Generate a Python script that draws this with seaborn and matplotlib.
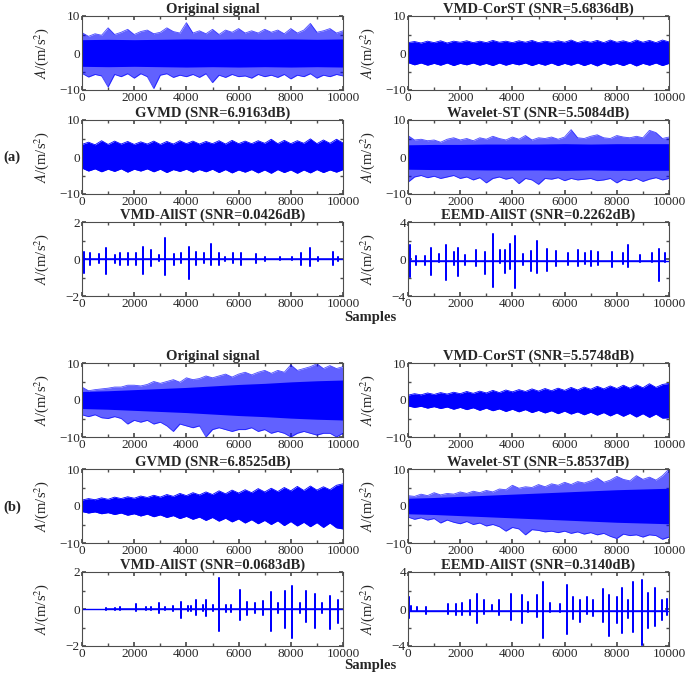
import numpy as np
import pandas as pd
import seaborn as sns
import matplotlib.pyplot as plt
from matplotlib.ticker import MultipleLocator

# ---------------- data ----------------
env_x = np.arange(0, 10001, 250)     # envelope sample grid
core_x = np.arange(0, 10001, 1000)   # dense-core sample grid

# (a) Original signal
orig_a_core = [3.6, 3.7, 3.6, 3.7, 3.8, 3.7, 3.8, 3.7, 3.8, 3.7, 3.8]
orig_a_hi = [5.5, 4.5, 5.2, 4.8, 6.8, 5.0, 5.6, 6.4, 5.0, 5.8, 6.2, 5.2, 5.6, 6.8, 5.8, 5.4, 8.2, 5.4, 6.0, 5.2, 6.4,
             5.0, 6.2, 5.6, 6.6, 5.4, 6.0, 5.4, 6.4, 5.6, 6.2, 5.2, 6.6, 5.4, 6.2, 8.0, 5.6, 6.0, 6.6, 5.4, 6.0]
orig_a_lo = [-5.5, -6.5, -5.8, -6.2, -9.2, -5.8, -6.4, -5.6, -6.8, -5.6, -6.4, -9.6, -6.0, -5.6, -6.6, -6.0, -6.4,
             -5.8, -6.6, -5.6, -8.0, -6.0, -6.6, -5.8, -6.4, -6.2, -6.8, -5.8, -6.4, -6.0, -6.6, -5.8, -7.0, -6.0,
             -6.4, -5.6, -6.8, -6.0, -6.4, -5.8, -6.2]
# (a) VMD-CorST
corst_a_hi = [2.8, 3.1, 2.7, 3.2, 2.8, 3.3, 2.7, 3.2, 2.9, 3.3, 2.8, 3.2, 2.8, 3.4, 2.9, 3.2, 2.8, 3.3, 2.9, 3.4, 2.8,
              3.2, 2.9, 3.3, 2.9, 3.5, 2.8, 3.3, 2.9, 3.4, 2.8, 3.5, 2.9, 3.3, 2.8, 3.5, 2.9, 3.4, 2.8, 3.5, 3.0]
corst_a_lo = [-2.6, -3.2, -2.7, -3.3, -2.8, -3.3, -2.7, -3.4, -2.8, -3.2, -2.7, -3.3, -2.8, -3.4, -2.7, -3.3, -2.8,
              -3.2, -2.7, -3.4, -2.8, -3.3, -2.7, -3.4, -2.8, -3.3, -2.7, -3.4, -2.8, -3.5, -2.7, -3.3, -2.8, -3.4,
              -2.7, -3.5, -2.8, -3.3, -2.7, -3.4, -2.8]
# (a) GVMD
gvmd_a_hi = [3.4, 4.0, 3.3, 4.4, 3.4, 4.3, 3.5, 4.2, 3.4, 4.1, 3.5, 4.3, 3.4, 4.2, 3.5, 4.4, 3.6, 4.3, 3.5, 4.2, 3.6,
             4.4, 3.5, 4.5, 3.6, 4.3, 3.6, 4.4, 3.7, 4.8, 3.6, 4.5, 3.6, 4.4, 3.7, 4.9, 3.6, 4.6, 3.7, 4.8, 3.8]
gvmd_a_lo = [-3.0, -3.8, -3.2, -4.0, -3.3, -3.9, -3.2, -4.1, -3.3, -3.8, -3.2, -4.0, -3.3, -4.2, -3.4, -3.9, -3.3,
             -4.1, -3.4, -4.0, -3.3, -4.2, -3.4, -4.3, -3.5, -4.1, -3.4, -4.3, -3.5, -4.4, -3.4, -4.2, -3.5, -4.4,
             -3.5, -4.3, -3.4, -4.2, -3.5, -4.1, -3.4]
# (a) Wavelet-ST
wav_a_core = [3.3, 3.4, 3.4, 3.5, 3.5, 3.5, 3.6, 3.5, 3.6, 3.6, 3.6]
wav_a_hi = [5.8, 4.6, 4.8, 4.4, 4.6, 4.0, 4.8, 5.2, 4.6, 5.0, 4.4, 5.2, 4.8, 5.6, 5.0, 4.6, 5.4, 4.8, 5.8, 4.6, 5.2,
            5.0, 5.4, 4.8, 5.4, 7.4, 5.2, 5.0, 5.6, 6.0, 5.2, 5.0, 5.8, 5.4, 5.2, 5.6, 5.2, 7.2, 6.6, 5.0, 5.4]
wav_a_lo = [-6.8, -5.4, -5.0, -5.6, -5.2, -5.8, -5.4, -5.0, -5.8, -5.4, -6.2, -5.6, -7.0, -5.8, -5.4, -6.0, -5.6,
            -7.2, -5.8, -6.2, -7.4, -5.8, -6.0, -5.6, -6.4, -5.8, -6.2, -6.0, -5.8, -6.4, -6.2, -5.8, -7.0, -6.0,
            -6.4, -5.8, -6.6, -6.0, -5.6, -6.2, -5.8]
# (a) VMD-AllST
allst_a_x = [77, 320, 640, 930, 1250, 1470, 1760, 2060, 2340, 2660, 2950, 3190, 3510, 3800, 4090, 4380,
             4660, 4930, 5240, 5470, 5790, 6100, 6680, 7020, 7570, 8030, 8400, 8720, 9040, 9600, 9810]
allst_a_hi = [0.4, 0.35, 0.25, 0.6, 0.2, 0.35, 0.35, 0.3, 0.65, 0.5, 0.2, 1.15, 0.25, 0.3, 0.65, 0.4,
              0.3, 0.8, 0.35, 0.1, 0.3, 0.3, 0.25, 0.1, 0.1, 0.1, 0.3, 0.6, 0.1, 0.4, 0.1]
allst_a_lo = [-0.75, -0.3, -0.2, -0.8, -0.2, -0.3, -0.35, -0.3, -0.8, -0.4, -0.1, -0.85, -0.3, -0.2, -1.1, -0.3,
              -0.2, -0.3, -0.3, -0.1, -0.2, -0.3, -0.2, -0.1, -0.05, -0.05, -0.3, -0.4, -0.1, -0.3, -0.1]
# (a) EEMD-AllST
eemd_a_x = [64, 320, 640, 895, 1190, 1470, 1765, 1920, 2170, 2620, 2940, 3240, 3520, 3710, 3900, 4090, 4410,
            4730, 4950, 5310, 5670, 6140, 6520, 6780, 7030, 7290, 7800, 8250, 8440, 8890, 9340, 9630, 9850]
eemd_a_hi = [1.5, 0.3, 0.3, 1.2, 0.5, 1.5, 0.8, 1.2, 0.4, 1.0, 0.8, 2.7, 1.0, 1.0, 1.6, 2.5, 0.5,
             0.9, 1.9, 1.1, 0.9, 0.7, 1.0, 0.7, 0.9, 0.8, 0.8, 0.7, 1.5, 0.4, 0.6, 1.1, 0.7]
eemd_a_lo = [-1.9, -0.6, -0.6, -1.7, -0.3, -2.3, -0.6, -1.8, -0.6, -0.8, -1.6, -3.0, -0.4, -1.5, -1.1, -3.1, -0.6,
             -1.3, -1.5, -1.3, -0.8, -0.6, -0.8, -0.5, -0.8, -0.6, -0.9, -0.5, -0.9, -0.3, -0.3, -2.4, -0.3]

# (b) Original signal
orig_b_core = [2.3, 2.5, 2.8, 3.1, 3.4, 3.8, 4.2, 4.5, 4.9, 5.2, 5.4]
orig_b_hi = [3.5, 2.5, 2.8, 3.0, 3.2, 3.5, 3.5, 4.0, 4.0, 3.8, 4.2, 5.0, 4.5, 5.0, 5.5, 4.8, 6.0, 5.5, 5.8, 6.5, 6.0,
             6.5, 7.0, 6.2, 7.0, 7.5, 6.8, 7.5, 8.0, 7.2, 8.0, 7.5, 9.5, 8.0, 8.5, 9.0, 9.8, 8.5, 9.3, 8.5, 9.0]
orig_b_lo = [-4.0, -4.5, -4.0, -4.8, -5.0, -4.5, -5.0, -6.5, -5.5, -6.0, -5.5, -6.5, -6.0, -7.0, -8.5, -6.5, -7.0,
             -7.5, -7.0, -10.0, -8.0, -7.5, -8.0, -8.5, -8.0, -8.0, -7.5, -8.5, -8.0, -9.0, -8.5, -9.0, -10.0, -9.0,
             -8.5, -9.0, -9.5, -9.0, -9.0, -10.0, -9.0]
# (b) VMD-CorST
corst_b_hi = [1.3, 1.7, 1.4, 1.9, 1.5, 2.0, 1.6, 2.1, 1.7, 2.3, 1.8, 2.4, 1.9, 2.6, 2.0, 2.7, 2.2, 2.8, 2.3, 3.0, 2.4,
              3.1, 2.5, 3.2, 2.6, 3.4, 2.7, 3.5, 2.9, 3.7, 3.0, 3.8, 3.1, 4.0, 3.2, 4.1, 3.3, 4.4, 3.4, 4.2, 4.5]
corst_b_lo = [-1.6, -2.0, -1.7, -2.2, -1.8, -2.3, -1.9, -2.5, -2.0, -2.6, -2.1, -2.8, -2.2, -2.9, -2.4, -3.1, -2.5,
              -3.2, -2.6, -3.4, -2.8, -3.5, -2.9, -3.7, -3.0, -3.8, -3.2, -4.0, -3.3, -4.1, -3.4, -4.3, -3.5, -4.4,
              -3.6, -4.6, -3.7, -4.7, -3.8, -4.9, -4.8]
# (b) GVMD
gvmd_b_hi = [1.6, 2.0, 1.7, 2.2, 1.8, 2.4, 2.0, 2.5, 2.1, 2.7, 2.3, 2.9, 2.4, 3.1, 2.6, 3.4, 2.8, 3.6, 3.0, 3.8, 3.1,
             4.1, 3.3, 4.3, 3.5, 4.4, 3.6, 4.7, 3.8, 4.8, 3.9, 5.0, 4.1, 5.3, 4.2, 5.4, 4.3, 5.2, 4.4, 5.6, 6.0]
gvmd_b_lo = [-1.5, -1.9, -1.6, -2.1, -1.8, -2.3, -1.9, -2.5, -2.1, -2.7, -2.2, -2.9, -2.4, -3.1, -2.6, -3.4, -2.8,
             -3.6, -3.0, -3.9, -3.1, -4.1, -3.3, -4.3, -3.5, -4.6, -3.7, -4.8, -3.9, -5.0, -4.0, -5.3, -4.2, -5.4,
             -4.4, -5.6, -4.5, -5.8, -4.6, -5.9, -6.2]
# (b) Wavelet-ST
wav_b_core = [2.1, 2.3, 2.6, 2.9, 3.2, 3.5, 3.8, 4.1, 4.4, 4.6, 4.8]
wav_b_hi = [2.8, 2.6, 3.2, 2.8, 3.6, 3.0, 3.4, 3.2, 3.8, 3.4, 4.0, 3.6, 4.2, 3.8, 4.6, 4.4, 5.6, 4.8, 5.2, 5.0, 5.8,
            5.2, 6.0, 5.6, 6.4, 5.8, 6.6, 6.2, 6.8, 7.6, 6.4, 7.0, 8.0, 7.2, 6.8, 8.2, 7.2, 7.8, 7.0, 8.2, 10.0]
wav_b_lo = [-3.0, -3.6, -3.2, -3.8, -3.4, -4.6, -3.8, -4.4, -4.8, -4.2, -5.0, -4.6, -5.4, -5.0, -5.6, -6.8, -5.8,
            -6.2, -7.8, -6.4, -6.6, -7.0, -6.8, -7.2, -6.8, -7.4, -7.0, -7.6, -7.2, -7.8, -7.4, -8.2, -8.8, -7.6,
            -8.0, -7.8, -8.4, -7.8, -8.0, -9.0, -8.4]
# (b) VMD-AllST
allst_b_x = [930, 1250, 1470, 2080, 2460, 2660, 2950, 3190, 3490, 3805, 4060, 4190, 4380, 4640, 4760, 5020, 5235,
             5530, 5720, 6040, 6320, 6610, 6930, 7230, 7510, 7760, 8060, 8340, 8590, 8910, 9210, 9490, 9810]
allst_b_hi = [0.05, 0.05, 0.1, 0.25, 0.1, 0.1, 0.3, 0.1, 0.15, 0.4, 0.15, 0.15, 0.5, 0.2, 0.5, 0.2, 1.7,
              0.2, 0.2, 1.05, 0.4, 0.3, 0.45, 0.9, 0.3, 0.96, 1.27, 0.3, 0.96, 0.8, 0.3, 0.7, 0.5]
allst_b_lo = [-0.05, -0.05, -0.05, -0.1, -0.05, -0.05, -0.2, -0.05, -0.1, -0.5, -0.1, -0.1, -0.3, -0.1, -0.4, -0.1,
              -1.2, -0.15, -0.15, -0.6, -0.3, -0.2, -0.3, -1.2, -0.2, -1.0, -1.55, -0.2, -0.7, -1.0, -0.2, -1.1, -0.75]
# (b) EEMD-AllST
eemd_b_x = [30, 130, 345, 705, 1535, 1855, 2085, 2390, 2660, 2900, 3200, 3490, 3965, 4350, 4605, 4925, 5180, 5435,
            5820, 6075, 6330, 6590, 6840, 7100, 7480, 7710, 7995, 8185, 8440, 8635, 8955, 9210, 9465, 9720, 9910]
eemd_b_hi = [1.3, 0.3, 0.2, 0.2, 0.5, 0.5, 0.6, 1.0, 1.6, 1.0, 0.4, 1.0, 1.6, 1.5, 0.8, 1.5, 2.9, 0.6,
             0.5, 2.6, 1.3, 1.0, 1.3, 1.0, 2.2, 1.5, 1.3, 2.3, 1.0, 2.9, 3.1, 1.7, 2.3, 1.0, 1.1]
eemd_b_lo = [-1.0, -0.2, -0.1, -0.5, -0.5, -0.6, -0.6, -0.6, -1.5, -0.5, -0.2, -0.6, -1.2, -1.5, -0.3, -0.9, -3.1,
             -0.3, -0.3, -2.7, -1.1, -1.4, -0.5, -0.8, -1.4, -2.9, -1.5, -2.6, -1.0, -2.5, -3.9, -2.0, -1.8, -1.2, -0.6]
eemd_base = -0.2

titles_a = ['Original signal', 'VMD-CorST (SNR=5.6836dB)', 'GVMD (SNR=6.9163dB)',
            'Wavelet-ST (SNR=5.5084dB)', 'VMD-AllST (SNR=0.0426dB)', 'EEMD-AllST (SNR=0.2262dB)']
titles_b = ['Original signal', 'VMD-CorST (SNR=5.5748dB)', 'GVMD (SNR=6.8525dB)',
            'Wavelet-ST (SNR=5.8537dB)', 'VMD-AllST (SNR=0.0683dB)', 'EEMD-AllST (SNR=0.3140dB)']

# ---------------- style ----------------
sns.set_theme(style='ticks')
plt.rcParams['font.family'] = ['Liberation Serif', 'DejaVu Serif']
plt.rcParams['mathtext.fontset'] = 'stix'
BLUE = (0.0, 0.0, 1.0)

fig = plt.figure(figsize=(6.85, 6.74), dpi=100)
W, H = 685, 674
col_left = [82, 408]
col_w = 261
row_top = [16, 120, 222, 363, 469, 572]
row_h = 74


def make_ax(row, col):
    return fig.add_axes([col_left[col] / W, 1 - (row_top[row] + row_h) / H, col_w / W, row_h / H])


def style_ax(ax, title, ylim):
    ax.set_xlim(0, 10000)
    ax.set_ylim(-ylim, ylim)
    ax.xaxis.set_major_locator(MultipleLocator(2000))
    ax.xaxis.set_minor_locator(MultipleLocator(1000))
    ax.yaxis.set_major_locator(MultipleLocator(ylim))
    ax.yaxis.set_minor_locator(MultipleLocator(ylim / 2))
    ax.tick_params(which='both', direction='in', top=True, right=True, labelsize=9.5,
                   color='0.3', pad=1.5)
    ax.tick_params(which='major', length=3)
    ax.tick_params(which='minor', length=2)
    for s in ax.spines.values():
        s.set_color('0.3')
        s.set_linewidth(0.8)
    ax.set_title(title, fontsize=10.5, fontweight='bold', pad=2)
    ax.set_ylabel(r'$A$/(m/s$^2$)', fontsize=10.5)
    ax.yaxis.set_label_coords(-0.12, 0.5)
    ax.set_xlabel('')


def dense(ax, hi, lo, core=None):
    if core is None:
        ax.fill_between(env_x, lo, hi, color=BLUE, linewidth=0)
        alpha = 1.0
    else:
        # noisy signal: lighter spiky fringe around a solid core
        ax.fill_between(env_x, lo, hi, color=BLUE, alpha=0.62, linewidth=0)
        core = np.asarray(core)
        ax.fill_between(core_x, -core, core, color=BLUE, linewidth=0)
        alpha = 0.7
    edges = pd.DataFrame({'x': np.concatenate([env_x, env_x]),
                          'y': np.concatenate([hi, lo]),
                          'edge': ['hi'] * len(env_x) + ['lo'] * len(env_x)})
    sns.lineplot(data=edges, x='x', y='y', units='edge', estimator=None, color=BLUE,
                 linewidth=0.6, alpha=alpha, ax=ax)


def sparse(ax, sx, shi, slo, base=0.0):
    ax.axhline(base, color=BLUE, linewidth=1.0)
    xs, ys = [], []
    for x, h, l in zip(sx, shi, slo):
        xs += [x, x, x, x]
        ys += [base, h, l, base]
    trace = pd.DataFrame({'x': xs, 'y': ys})
    sns.lineplot(data=trace, x='x', y='y', sort=False, estimator=None, color=BLUE,
                 linewidth=1.1, ax=ax)


groups = [
    (0, titles_a, [(orig_a_hi, orig_a_lo, orig_a_core), (corst_a_hi, corst_a_lo, None),
                   (gvmd_a_hi, gvmd_a_lo, None), (wav_a_hi, wav_a_lo, wav_a_core)],
     (allst_a_x, allst_a_hi, allst_a_lo), (eemd_a_x, eemd_a_hi, eemd_a_lo)),
    (3, titles_b, [(orig_b_hi, orig_b_lo, orig_b_core), (corst_b_hi, corst_b_lo, None),
                   (gvmd_b_hi, gvmd_b_lo, None), (wav_b_hi, wav_b_lo, wav_b_core)],
     (allst_b_x, allst_b_hi, allst_b_lo), (eemd_b_x, eemd_b_hi, eemd_b_lo)),
]

for r0, titles, dense_sets, allst, eemd in groups:
    order = [(0, 0), (0, 1), (1, 0), (1, 1)]
    for k, ((r, c), (hi, lo, core)) in enumerate(zip(order, dense_sets)):
        ax = make_ax(r0 + r, c)
        dense(ax, hi, lo, core)
        style_ax(ax, titles[k], 10)
    ax = make_ax(r0 + 2, 0)
    sparse(ax, *allst)
    style_ax(ax, titles[4], 2)
    ax = make_ax(r0 + 2, 1)
    sparse(ax, *eemd, base=eemd_base)
    style_ax(ax, titles[5], 4)

fig.text(3 / W, 1 - 157 / H, '(a)', fontsize=10.5, fontweight='bold', va='center')
fig.text(3 / W, 1 - 507 / H, '(b)', fontsize=10.5, fontweight='bold', va='center')
fig.text(370 / W, 1 - 318 / H, 'Samples', fontsize=10.5, fontweight='bold', ha='center', va='center')
fig.text(370 / W, 1 - 665 / H, 'Samples', fontsize=10.5, fontweight='bold', ha='center', va='center')

fig.savefig('out.png', dpi=100)
